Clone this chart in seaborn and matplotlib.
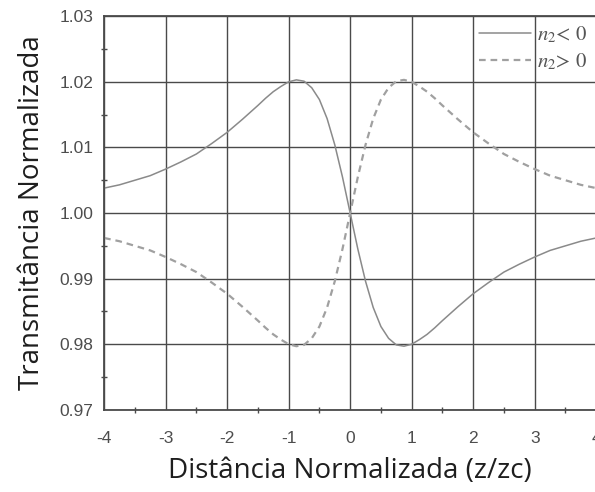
import numpy as np
import pandas as pd
import matplotlib
matplotlib.use("Agg")
import matplotlib.pyplot as plt
import seaborn as sns
from matplotlib.ticker import MultipleLocator

# posição normalizada (z/zc) e transmitância (curva n2 < 0)
z = [-4.0, -3.75, -3.5, -3.25, -3.0, -2.75, -2.5, -2.25, -2.0, -1.75, -1.5,
     -1.375, -1.25, -1.125, -1.0, -0.875, -0.75, -0.625, -0.5, -0.375, -0.25,
     -0.125, 0.0, 0.125, 0.25, 0.375, 0.5, 0.625, 0.75, 0.875, 1.0, 1.125,
     1.25, 1.375, 1.5, 1.75, 2.0, 2.25, 2.5, 2.75, 3.0, 3.25, 3.5, 3.75, 4.0]
t_neg = [1.0038, 1.0043, 1.0050, 1.0057, 1.0067, 1.0078, 1.0090, 1.0106,
         1.0123, 1.0143, 1.0164, 1.0175, 1.0185, 1.0193, 1.0200, 1.0203,
         1.0201, 1.0191, 1.0173, 1.0144, 1.0104, 1.0055, 1.0000, 0.9945,
         0.9896, 0.9856, 0.9827, 0.9809, 0.9799, 0.9797, 0.9800, 0.9807,
         0.9815, 0.9825, 0.9836, 0.9857, 0.9877, 0.9894, 0.9910, 0.9922,
         0.9933, 0.9943, 0.9950, 0.9957, 0.9962]
# curva n2 > 0
t_pos = [0.9962, 0.9957, 0.9950, 0.9943, 0.9933, 0.9922, 0.9910, 0.9894,
         0.9877, 0.9857, 0.9836, 0.9825, 0.9815, 0.9807, 0.9800, 0.9797,
         0.9799, 0.9809, 0.9827, 0.9856, 0.9896, 0.9945, 1.0000, 1.0055,
         1.0104, 1.0144, 1.0173, 1.0191, 1.0201, 1.0203, 1.0200, 1.0193,
         1.0185, 1.0175, 1.0164, 1.0143, 1.0123, 1.0106, 1.0090, 1.0078,
         1.0067, 1.0057, 1.0050, 1.0043, 1.0038]

df = pd.DataFrame({"z": z, "neg": t_neg, "pos": t_pos})

sns.set_style("white")
plt.rcParams["mathtext.fontset"] = "stix"

fig = plt.figure(figsize=(5.95, 4.92), dpi=100)
ax = fig.add_axes([0.175, 0.167, 0.827, 0.800])

sns.lineplot(data=df, x="z", y="neg", ax=ax, color="#8a8a8a", lw=1.1,
             label=r"$n_2$< 0")
sns.lineplot(data=df, x="z", y="pos", ax=ax, color="#a0a0a0", lw=1.6,
             linestyle=(0, (3, 2.2)), label=r"$n_2$> 0")

ax.set_xlim(-4, 4)
ax.set_ylim(0.97, 1.03)
ax.xaxis.set_minor_locator(MultipleLocator(0.5))
ax.yaxis.set_minor_locator(MultipleLocator(0.005))
ax.set_yticks([0.97, 0.98, 0.99, 1.00, 1.01, 1.02, 1.03])
ax.set_yticklabels(["0.97", "0.98", "0.99", "1.00", "1.01", "1.02", "1.03"],
                   family="Liberation Sans")
ax.set_xticks(range(-4, 5))
ax.set_xticklabels([str(v) for v in range(-4, 5)], family="Liberation Sans")

ax.grid(True, which="major", color="#4a4a4a", lw=1.0)
ax.set_axisbelow(True)
for s in ax.spines.values():
    s.set_color("#4a4a4a")
    s.set_linewidth(1.3)
ax.tick_params(which="major", direction="out", length=4, width=1,
               color="#4a4a4a", labelsize=12.5, labelcolor="#4d4d4d")
ax.tick_params(which="minor", direction="inout", length=4, width=1,
               color="#4a4a4a", bottom=True, left=True)
ax.tick_params(axis="x", pad=11)

ax.set_xlabel("Distância Normalizada (z/zc)", fontsize=20, family="Open Sans",
              color="#1e1e1e", labelpad=8)
ax.set_ylabel("Transmitância Normalizada", fontsize=20, family="Open Sans",
              color="#1e1e1e", labelpad=10)

leg = ax.legend(loc="upper left", bbox_to_anchor=(0.737, 1.01), frameon=False,
                handlelength=2.5, handletextpad=0.25, labelspacing=0.3,
                borderaxespad=0.2, prop={"family": "STIXGeneral", "size": 15})
for txt in leg.get_texts():
    txt.set_color("#555555")

fig.savefig("out.png", dpi=100)
